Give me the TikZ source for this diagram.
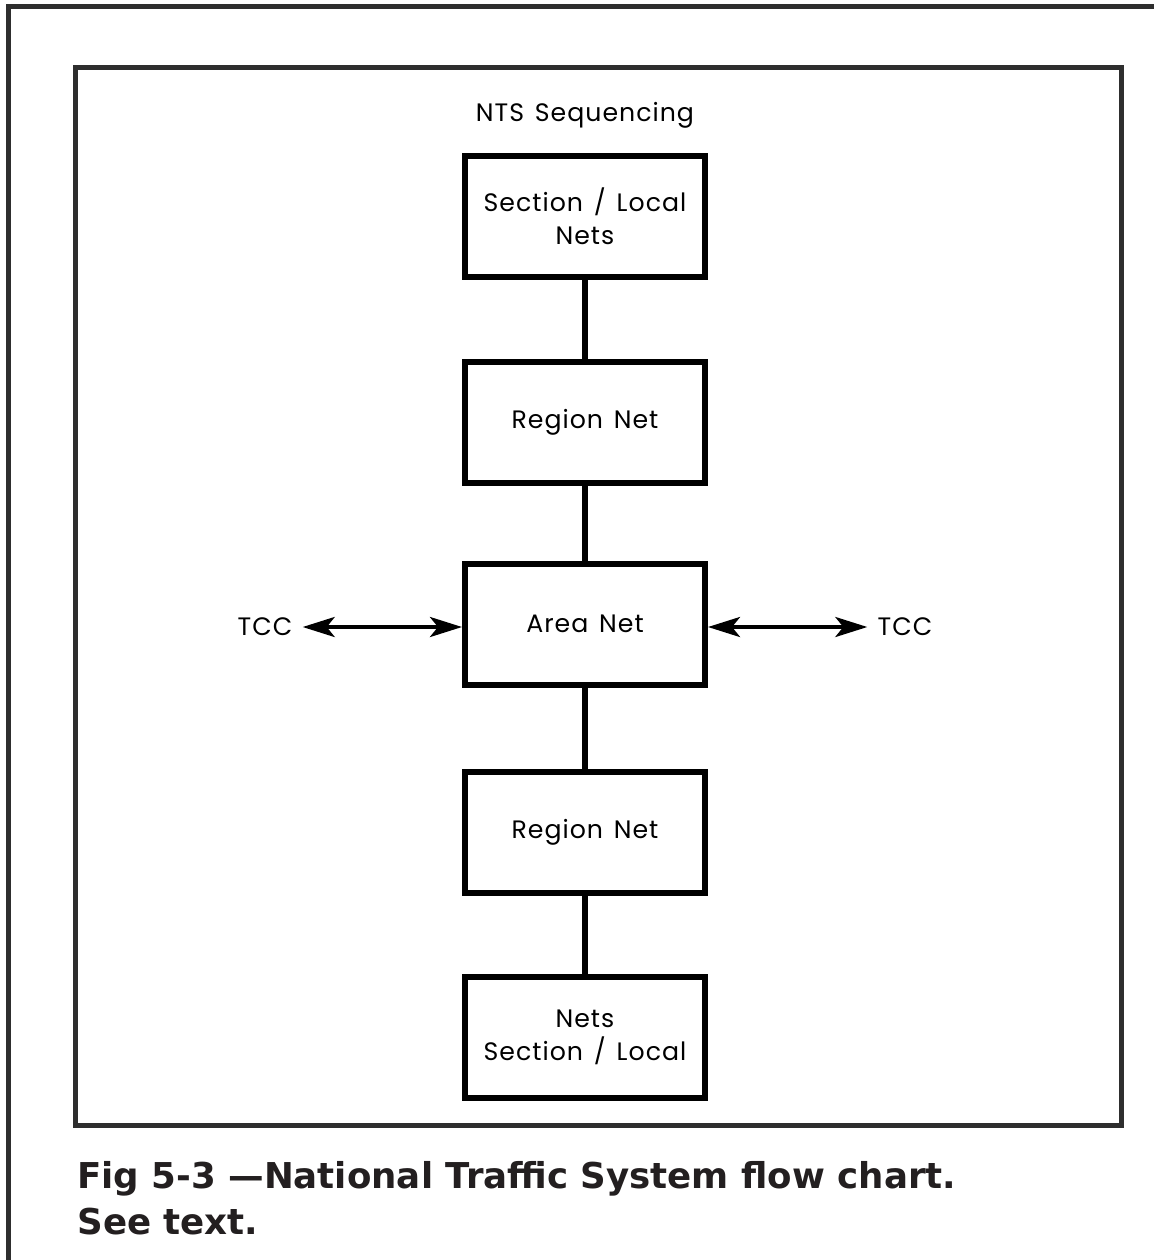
\documentclass[tikz,border=0pt]{standalone}
\usepackage{fontspec}
\setmainfont{DejaVu Sans}
\newfontfamily\lblfont[LetterSpace=4,WordSpace=1.4]{Poppins}
\newfontfamily\capfont{DejaVu Sans}
\usetikzlibrary{arrows.meta}
\definecolor{framegray}{HTML}{2E2E2E}
\definecolor{captext}{HTML}{231F20}
\tikzset{
  netbox/.style={draw=black, line width=3pt, minimum width=120pt, minimum height=60.5pt,
    align=center, font=\lblfont\fontsize{12.6}{16.5}\selectfont, inner sep=0pt},
  link/.style={draw=black, line width=3pt},
  tcc/.style={font=\lblfont\fontsize{12.6}{15}\selectfont, inner sep=5pt},
  dblarrow/.style={line width=2pt, {Stealth[length=16pt,width=10pt,inset=4pt]}-{Stealth[length=16pt,width=10pt,inset=4pt]}},
  frameline/.style={draw=framegray, line width=2.5pt}
}
\begin{document}
\begin{tikzpicture}[x=0.5pt,y=-0.5pt]
\useasboundingbox (0,0) rectangle (1153,1260);
\fill[white] (0,0) rectangle (1153,1260);
% outer frame (only left and top visible)
\draw[frameline] (8.5,1262) -- (8.5,6) -- (1155,6);
% inner frame
\draw[frameline] (75,67.5) rectangle (1121.5,1125);
% title
\node[font=\lblfont\fontsize{12.6}{15}\selectfont] (title) at (585,115) {NTS Sequencing};
% boxes
\node[netbox] (sec) at (585,216.5) {Section / Local\\Nets};
\node[netbox] (reg1) at (585,422) {Region Net};
\node[netbox] (area) at (585,624) {Area Net};
\node[netbox] (reg2) at (585,832) {Region Net};
\node[netbox] (bot) at (585,1037.5) {Nets\\Section / Local};
% links
\draw[link] (sec) -- (reg1);
\draw[link] (reg1) -- (area);
\draw[link] (area) -- (reg2);
\draw[link] (reg2) -- (bot);
% TCC
\node[tcc] (tccL) at (265,627) {TCC};
\node[tcc] (tccR) at (905,627) {TCC};
\draw[dblarrow] (tccL.east) -- (tccL.east -| area.west);
\draw[dblarrow] (tccR.west -| area.east) -- (tccR.west);
% caption
\node[anchor=north west, align=left, font=\capfont\bfseries\fontsize{17.8}{23}\selectfont, text=captext, inner sep=0pt] (cap) at (77,1161) {Fig 5-3 —National Traffic System flow chart.\\See text.};
\end{tikzpicture}
\end{document}
